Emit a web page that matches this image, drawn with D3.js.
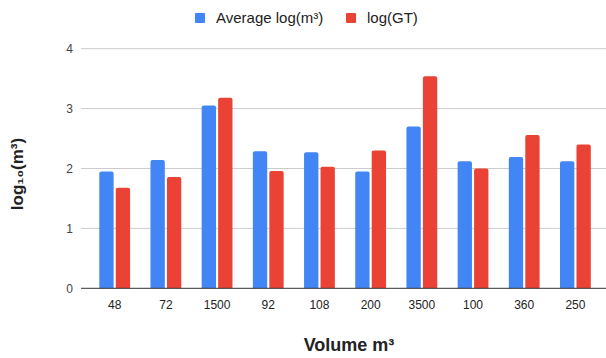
<!DOCTYPE html>
<html><head><meta charset="utf-8">
<script src="https://cdn.jsdelivr.net/npm/d3@7"></script>
<style>body{margin:0;background:#fff;}svg{display:block;}</style>
</head><body>
<svg id="c" width="606" height="358"></svg>
<script>
(function(){
const categories = ["48","72","1500","92","108","200","3500","100","360","250"];
const avgLog = [1.95, 2.14, 3.05, 2.29, 2.27, 1.95, 2.70, 2.12, 2.19, 2.12];
const logGT  = [1.68, 1.86, 3.18, 1.96, 2.03, 2.30, 3.54, 2.00, 2.56, 2.40];
const seriesNames = ["Average log(m³)", "log(GT)"];
const colors = ["#4285F4", "#EA4335"];
const yTicks = [0,1,2,3,4];

const svg = d3.select("#c");
const plotL = 81, plotR = 606, plotTop = 48.7, plotBottom = 288.3;
const x = d3.scaleBand().domain(categories).range([89.1, 601]).paddingInner(0).paddingOuter(0);
const x1 = d3.scaleBand().domain([0,1]).range([x.bandwidth()/2 - 15.4, x.bandwidth()/2 + 15.4]).paddingInner(0.13);
const y = d3.scaleLinear().domain([0,4]).range([plotBottom, plotTop]);

svg.append("g").selectAll("line").data(yTicks.filter(d=>d>0)).join("line")
  .attr("x1", plotL).attr("x2", plotR)
  .attr("y1", d=>y(d)).attr("y2", d=>y(d))
  .attr("stroke", "#cccccc").attr("stroke-width", 1);

const yAxis = d3.axisLeft(y).tickValues(yTicks).tickSize(0).tickPadding(0).tickFormat(d3.format("d"));
const gy = svg.append("g").attr("transform", `translate(${plotL-8},0)`).call(yAxis);
gy.select(".domain").remove();
gy.selectAll("text").attr("font-family","Arial, 'Liberation Sans', sans-serif").attr("font-size",12).attr("fill","#444");

const data = categories.map((c,i)=>({c, v:[avgLog[i], logGT[i]]}));
const groups = svg.append("g").selectAll("g").data(data).join("g")
  .attr("transform", d=>`translate(${x(d.c)},0)`);
groups.selectAll("path").data(d=>d.v.map((v,k)=>({v,k}))).join("path")
  .attr("fill", d=>colors[d.k])
  .attr("d", d=>{
    const x0 = x1(d.k), w = x1.bandwidth(), y0 = y(d.v), r = 2;
    return `M${x0},${plotBottom}V${y0+r}Q${x0},${y0} ${x0+r},${y0}H${x0+w-r}Q${x0+w},${y0} ${x0+w},${y0+r}V${plotBottom}Z`;
  });

svg.append("line").attr("x1", plotL).attr("x2", plotR).attr("y1", plotBottom).attr("y2", plotBottom)
  .attr("stroke","#333").attr("stroke-width",1);

const xAxis = d3.axisBottom(x).tickSize(0).tickPadding(12);
const gx = svg.append("g").attr("transform", `translate(0,${plotBottom})`).call(xAxis);
gx.select(".domain").remove();
gx.selectAll("text").attr("font-family","Arial, 'Liberation Sans', sans-serif").attr("font-size",12).attr("fill","#222");

svg.append("text").attr("x", 349).attr("y", 351).attr("text-anchor","middle")
  .attr("font-family","Arial, 'Liberation Sans', sans-serif").attr("font-weight","bold").attr("font-size",18).attr("fill","#222")
  .text("Volume m³");
svg.append("text").attr("transform","translate(23,174) rotate(-90)").attr("text-anchor","middle")
  .attr("font-family","Arial, 'Liberation Sans', sans-serif").attr("font-weight","bold").attr("font-size",17).attr("fill","#222")
  .text("log₁₀(m³)");

const legendX = [195, 346];
const lg = svg.append("g").selectAll("g").data(seriesNames).join("g")
  .attr("transform",(d,i)=>`translate(${legendX[i]},13)`);
lg.append("rect").attr("width",10).attr("height",10).attr("rx",1).attr("fill",(d,i)=>colors[i]);
lg.append("text").attr("x",21).attr("y",10)
  .attr("font-family","Arial, 'Liberation Sans', sans-serif").attr("font-size",15).attr("fill","#222")
  .text(d=>d);
})();
</script>
</body></html>
